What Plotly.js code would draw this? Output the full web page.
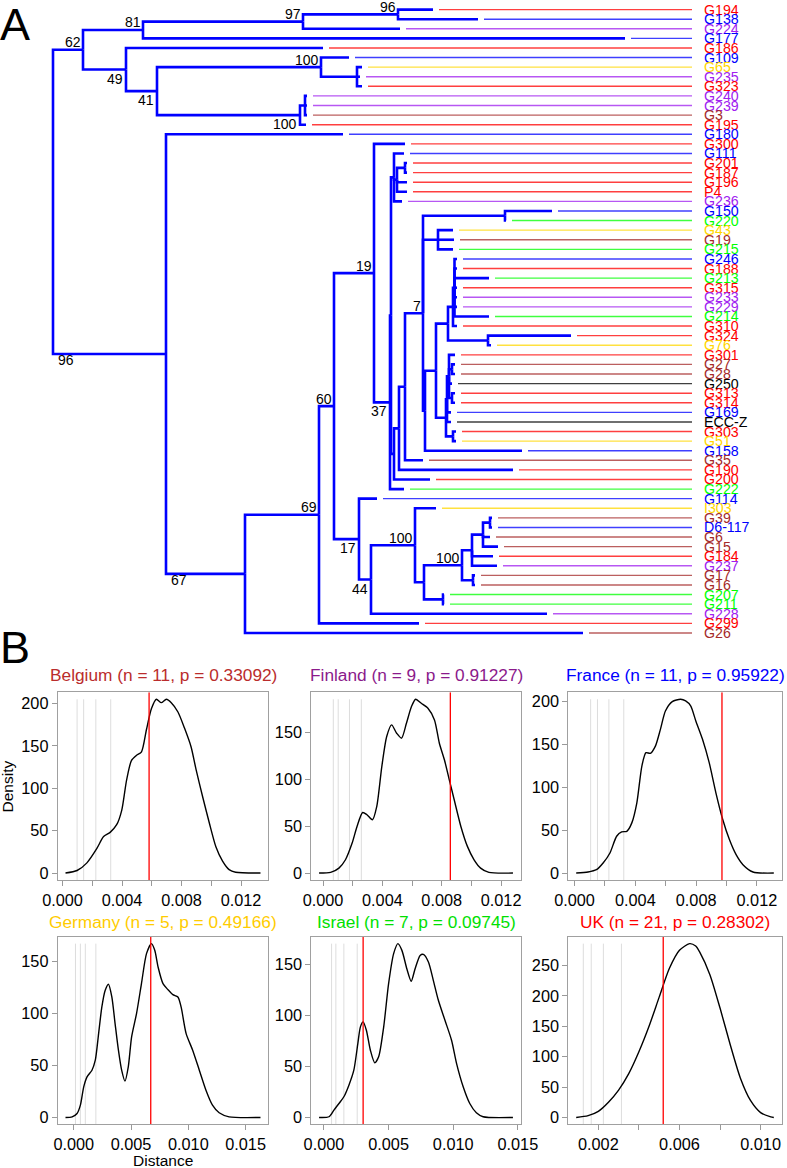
<!DOCTYPE html>
<html><head><meta charset="utf-8">
<script src="https://cdn.plot.ly/plotly-3.0.1.min.js"></script>
<style>html,body{margin:0;padding:0;background:#fff;} #chart{width:787px;height:1168px;}</style>
</head><body><div id="chart"></div>
<script>
// ================= TREE DATA =================
const tipNames = ["G194","G138","G224","G177","G186","G109","G65","G235","G323","G240","G239","G3","G195","G180","G300","G111","G201","G187","G196","P4","G236","G150","G220","G43","G19","G215","G246","G188","G213","G315","G233","G229","G214","G310","G324","G76","G301","G27","G28","G250","G313","G314","G169","ECC-Z","G303","G51","G158","G35","G190","G200","G222","G114","I303","G39","D6-117","G6","G15","G184","G237","G17","G16","G207","G211","G228","G299","G26"];
const tipCountry = ["UK","FR","FI","FR","UK","FR","DE","FI","UK","FI","FI","BE","UK","FR","UK","FR","UK","UK","UK","UK","FI","FR","IL","DE","BE","IL","FR","UK","IL","UK","FI","FI","IL","UK","UK","DE","UK","BE","BE","REF","UK","UK","FR","REF","UK","DE","FR","BE","UK","UK","IL","FR","DE","BE","FR","BE","BE","UK","FI","BE","BE","IL","IL","FI","UK","BE"];
// parent internal node of each tip
const tipParent = [4,4,3,2,5,7,8,8,8,10,10,10,9,11,15,19,21,21,20,20,19,26,26,27,27,27,32,32,32,32,32,32,32,31,33,33,36,37,37,36,38,38,35,35,39,39,28,24,23,22,17,16,41,48,48,47,47,45,45,46,46,44,44,40,13,12];
// depth (distance from root, arbitrary units) of each tip
const tipDepth = [380,425,347,572,270,296,309,307,309,254,254,254,253,290,352,351,354,354,354,354,349,499,453,400,401,400,404,404,436,404,404,404,436,404,518,438,402,402,402,399,402,402,398,398,403,403,469,370,460,377,351,324,383,439,439,437,445,440,444,422,422,391,391,494,366,530];
// internal nodes: parent index and depth
const nodeParent = [-1,0,1,2,3,1,5,6,7,6,9,0,11,12,13,14,14,15,17,18,19,20,18,22,23,24,25,25,25,28,29,30,31,30,29,34,35,36,36,34,16,40,41,42,42,43,43,45,47];
const nodeDepth = [0,30,90,250,345,73,104,268,304,247,252,113,192,266,281,321,306,337,338,341,344,352,341,346,352,370,452,385,372,383,395,400,401.5,435,393,394,396,399,399,400,318,362,371,409,390,419,420,430,437];
// bootstrap support labels
const supportNode  = [1,2,3,4,5,6,7,9,11,12,13,14,15,16,17,25,40,41,43];
const supportValue = [62,81,97,96,49,41,100,100,96,67,69,60,19,17,37,7,44,100,100];
const supportPlace = ['al','al','al','al','bl','bl','al','bl','br','br','al','al','al','bl','bl','al','bl','al','al'];

// ================= DENSITY DATA =================
const belgiumX = [0.0002,0.00098,0.00164,0.00231,0.00276,0.0032,0.00364,0.00398,0.00431,0.00464,0.00498,0.00531,0.00564,0.00598,0.00631,0.00664,0.00698,0.00731,0.00776,0.0082,0.00864,0.00898,0.00942,0.00987,0.01031,0.01076,0.0112,0.01164,0.01331];
const belgiumD = [0,3,12,29,43,48,57,74,110,133,139,143,169,194,205,201,205,201,190,171,149,122,90,59,31,14,4,1,0];
const finlandX = [-0.00027,0.00051,0.00107,0.00151,0.00196,0.00229,0.00267,0.00296,0.00333,0.00362,0.00396,0.00429,0.00462,0.00496,0.00529,0.00562,0.00596,0.00624,0.00662,0.00707,0.00751,0.00784,0.00818,0.00851,0.00884,0.00929,0.00973,0.01018,0.01062,0.01118,0.0128];
const finlandD = [0,0.7,5.3,14.2,32,49.8,64.7,62.3,56.9,71.1,113.8,145.9,158.3,149.4,144.1,160,177.9,185.7,181.4,176.1,163.6,138.7,121,99.6,78.3,49.8,28.5,14.2,5.3,0.7,0];
const franceX = [0.00011,0.00089,0.00144,0.00188,0.00233,0.00277,0.0031,0.00344,0.00377,0.0041,0.00443,0.0047,0.00499,0.00532,0.00565,0.00598,0.00643,0.00698,0.00731,0.00764,0.00798,0.00842,0.00886,0.0093,0.00975,0.01019,0.01063,0.01108,0.01174,0.01311];
const franceD = [0,1.2,3.9,11.7,23.4,42.9,48,48.7,58.5,81.9,124.8,140.4,139.6,148,167.6,189,200,202.7,200.8,195,177.4,156,128.7,93.6,62.4,39,21.4,9.7,1.2,0];
const germanyX = [-0.00072,-0.00014,0.00029,0.00058,0.00087,0.00116,0.00159,0.00188,0.00217,0.00245,0.00274,0.00303,0.00332,0.00361,0.0039,0.00418,0.00447,0.00476,0.00505,0.00548,0.00591,0.00635,0.00678,0.00707,0.00736,0.00779,0.00822,0.00865,0.00909,0.00937,0.00981,0.01038,0.01096,0.01154,0.01211,0.01269,0.01356,0.0163];
const germanyD = [0,0.6,3.8,11.8,29.4,39,45.4,55,80.6,106,122,128,116,90,64.6,45.4,34.9,48.6,77.4,99.8,128.6,157.4,167,160.6,144.6,128.6,122.8,118,115.8,106.2,80.6,64.6,45.4,26.2,11.8,4.5,0.6,0];
const israelX = [-0.00038,0.00039,0.00077,0.00116,0.00154,0.00193,0.00231,0.00262,0.00282,0.00303,0.00328,0.00359,0.00393,0.00423,0.00462,0.005,0.00539,0.00572,0.00603,0.00641,0.00675,0.00705,0.00744,0.00769,0.00808,0.00846,0.00885,0.00936,0.00987,0.01026,0.01077,0.01128,0.01179,0.01231,0.01462];
const israelD = [0,0.7,7.2,13.7,20.3,31.7,46.4,72.5,88.9,93.8,85.6,66,53.6,59.5,88.9,131.4,160.8,170.6,164,146,133.7,146,159,160,152.6,134.6,115,95.4,75.8,52.9,30.1,13.7,4.6,0.7,0];
const ukX = [0.00091,0.0015,0.002,0.0025,0.003,0.0035,0.004,0.0045,0.005,0.0055,0.006,0.0065,0.0068,0.007,0.0075,0.008,0.0085,0.009,0.0095,0.01,0.0105,0.01065];
const ukD = [0,3,10,25,45,72,108,150,198,245,275,286,282,272,235,180,120,65,28,8,1,0];

const panelNames = ["Belgium","Finland","France","Germany","Israel","UK"];
const panelN = [11,9,11,5,7,21];
const panelP = ["0.33092","0.91227","0.95922","0.49166","0.09745","0.28302"];
const observedDist = [0.00582,0.00858,0.0097,0.00672,0.00303,0.0052];
const belgiumRef = [0.00098,0.00142,0.00224,0.00324];
const finlandRef = [0.00069,0.00102,0.00178,0.00258];
const franceRef  = [0.00106,0.00151,0.00226,0.00324];
const germanyRef = [0.00015,0.00058,0.00101,0.00193];
const israelRef  = [0.00059,0.00092,0.00154,0.00257];
const ukRef      = [0.00126,0.00165,0.00225,0.00314];
const xTickStep = [0.002,0.002,0.002,0.005,0.005,0.002];
const xLabelEvery = [2,2,2,1,1,2];

// ================= STYLE =================
const W = 787, H = 1168;
const FONT = 'Liberation Sans, Arial, Helvetica, sans-serif';
const fx = px => px / W, fy = px => 1 - px / H;
const countryColor = {UK:'#FF0000', FR:'#0000FF', FI:'#A020F0', DE:'#FFD700', BE:'#A52A2A', IL:'#00FF00', REF:'#000000'};
const titleColor = ['#BA2C2C','#8B1A8B','#0000FF','#FFCC00','#00E000','#FF0000'];

const traces = [];
const annotations = [];

// ---- tree geometry via the y axis (tip index) and x axis (depth) ----
const memo = {};
function childYs(k){
  const ys = [];
  tipParent.forEach((p,i)=>{ if(p===k) ys.push(i); });
  nodeParent.forEach((p,j)=>{ if(p===k) ys.push(nodeY(j)); });
  return ys;
}
function nodeY(k){
  if(memo[k]!==undefined) return memo[k];
  const ys = childYs(k);
  memo[k] = (Math.min(...ys)+Math.max(...ys))/2;
  return memo[k];
}
const bx=[], by=[];
function elbow(pk, cx, cy){
  bx.push(nodeDepth[pk], nodeDepth[pk], cx, null);
  by.push(nodeY(pk), cy, cy, null);
}
nodeParent.forEach((p,k)=>{ if(p>=0) elbow(p, nodeDepth[k], nodeY(k)); });
tipParent.forEach((p,i)=>{ elbow(p, tipDepth[i], i); });
const LINE_END = 639, LABEL_X = 648.5, GAP = 6;
// extension lines per country
Object.keys(countryColor).forEach(c=>{
  const ex=[], ey=[];
  tipCountry.forEach((cc,i)=>{ if(cc===c){ ex.push(tipDepth[i]+GAP, LINE_END, null); ey.push(i,i,null);} });
  traces.push({type:'scatter', mode:'lines', x:ex, y:ey, xaxis:'x', yaxis:'y', hoverinfo:'skip',
    line:{color:countryColor[c], width:1.4}, opacity:0.75});
});
traces.push({type:'scatter', mode:'lines', x:bx, y:by, xaxis:'x', yaxis:'y', hoverinfo:'skip',
  line:{color:'#0000FF', width:2.6}});

tipNames.forEach((n,i)=>{
  annotations.push({xref:'x', yref:'y', x:LABEL_X, y:i, text:n, showarrow:false, xanchor:'left', yanchor:'middle',
    font:{family:FONT, size:14.2, color:countryColor[tipCountry[i]]}});
});
supportNode.forEach((k,j)=>{
  const pl = supportPlace[j];
  const a = {xref:'x', yref:'y', y:nodeY(k), text:String(supportValue[j]), showarrow:false,
    font:{family:FONT, size:14, color:'#000'}};
  if(pl==='al'){ a.x=nodeDepth[k]; a.xanchor='right'; a.yanchor='bottom'; a.xshift=0; a.yshift=-2.5; }
  else if(pl==='bl'){ a.x=nodeDepth[k]; a.xanchor='right'; a.yanchor='top'; a.xshift=-1; a.yshift=1; }
  else { a.x=nodeDepth[nodeParent[k]]; a.xanchor='left'; a.yanchor='top'; a.xshift=3; a.yshift=4; }
  annotations.push(a);
});

// ---- density panels ----
const panelX = [belgiumX,finlandX,franceX,germanyX,israelX,ukX];
const panelD = [belgiumD,finlandD,franceD,germanyD,israelD,ukD];
const panelRef = [belgiumRef,finlandRef,franceRef,germanyRef,israelRef,ukRef];
const cols = [[57.7,268.3],[311.3,520.7],[568.3,781.7]];
const rows = [[692.3,880],[936.7,1124.4]];
const titleY = [675, 921.7];

const layout = {
  width:W, height:H, margin:{l:0,r:0,t:0,b:0}, showlegend:false,
  paper_bgcolor:'#ffffff', plot_bgcolor:'rgba(0,0,0,0)',
  xaxis:{domain:[0,1], range:[-53,734], visible:false, fixedrange:true},
  yaxis:{domain:[fy(650),1], range:[66.78,-1.001], visible:false, fixedrange:true},
  annotations:annotations
};

panelNames.forEach((name,p)=>{
  const k = p+2, r = Math.floor(p/3), c = p%3;
  const xs = panelX[p], ds = panelD[p];
  const xmin = Math.min(...xs), xmax = Math.max(...xs), dmax = Math.max(...ds);
  const w = xmax-xmin;
  const xr = [xmin-0.04*w, xmax+0.04*w];
  const yr = [-0.04*dmax, 1.04*dmax];
  const st = xTickStep[p];
  const tv=[], tt=[];
  let j=0;
  for(let m=Math.ceil(xr[0]/st-1e-9); m*st<=xr[1]+1e-12; m++){
    const v = +(m*st).toFixed(4);
    tv.push(v); tt.push(j%xLabelEvery[p]===0 ? v.toFixed(3) : ''); j++;
  }
  const ytv=[]; for(let v=0; v<=yr[1]; v+=50) ytv.push(v);
  const axStyle = {ticks:'outside', ticklen:5, tickwidth:1, tickcolor:'#999999', showline:true, linecolor:'#a0a0a0',
    linewidth:1, mirror:true, showgrid:false, zeroline:false, fixedrange:true,
    tickfont:{family:FONT, size:16.3, color:'#000'}};
  layout['xaxis'+k] = Object.assign({domain:[fx(cols[c][0]),fx(cols[c][1])], anchor:'y'+k, range:xr,
    tickmode:'array', tickvals:tv, ticktext:tt}, axStyle);
  layout['yaxis'+k] = Object.assign({domain:[fy(rows[r][1]),fy(rows[r][0])], anchor:'x'+k, range:yr,
    tickmode:'array', tickvals:ytv, ticktext:ytv.map(String)}, axStyle);
  // reference grey lines
  const gx=[], gy=[];
  panelRef[p].forEach(v=>{ gx.push(v,v,null); gy.push(yr[0],dmax,null); });
  traces.push({type:'scatter', mode:'lines', x:gx, y:gy, xaxis:'x'+k, yaxis:'y'+k, hoverinfo:'skip',
    line:{color:'#dddddd', width:1}});
  traces.push({type:'scatter', mode:'lines', x:xs, y:ds, xaxis:'x'+k, yaxis:'y'+k, hoverinfo:'skip',
    line:{color:'#000000', width:1.4, shape:'spline', smoothing:0.7}});
  traces.push({type:'scatter', mode:'lines', x:[observedDist[p],observedDist[p]], y:yr, xaxis:'x'+k, yaxis:'y'+k,
    hoverinfo:'skip', line:{color:'#FF0000', width:1.3}});
  annotations.push({xref:'paper', yref:'paper', x:fx((cols[c][0]+cols[c][1])/2), y:fy(titleY[r]),
    xanchor:'center', yanchor:'middle', showarrow:false,
    text:name+' (n = '+panelN[p]+', p = '+panelP[p]+')', font:{family:FONT, size:17.3, color:titleColor[p]}});
});

annotations.push({xref:'paper', yref:'paper', x:fx(7.5), y:fy(787), text:'Density', textangle:-90, showarrow:false,
  xanchor:'center', yanchor:'middle', font:{family:FONT, size:15.5, color:'#000'}});
annotations.push({xref:'paper', yref:'paper', x:fx(163), y:fy(1160), text:'Distance', showarrow:false,
  xanchor:'center', yanchor:'middle', font:{family:FONT, size:15.5, color:'#000'}});
annotations.push({xref:'paper', yref:'paper', x:fx(-2), y:fy(-3), text:'A', showarrow:false,
  xanchor:'left', yanchor:'top', font:{family:FONT, size:45, color:'#000'}});
annotations.push({xref:'paper', yref:'paper', x:fx(-2), y:fy(620), text:'B', showarrow:false,
  xanchor:'left', yanchor:'top', font:{family:FONT, size:45, color:'#000'}});

Plotly.newPlot('chart', traces, layout, {staticPlot:true, displayModeBar:false});
</script>
</body></html>
